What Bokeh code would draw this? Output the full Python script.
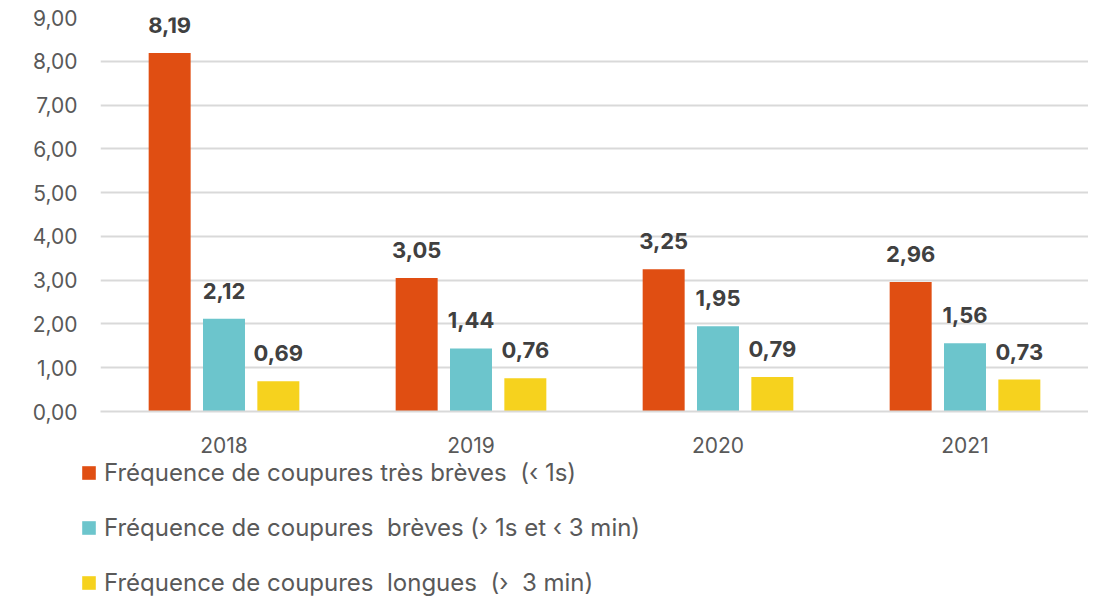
from bokeh.plotting import figure
from bokeh.layouts import column
from bokeh.models import ColumnDataSource, FactorRange, Range1d, Legend, LegendItem, CustomJSTickFormatter, FixedTicker
from bokeh.transform import dodge
from bokeh.core.properties import value
from bokeh.embed import file_html
from bokeh.resources import INLINE

years = ["2018", "2019", "2020", "2021"]
tres_breves = [8.19, 3.05, 3.25, 2.96]
breves = [2.12, 1.44, 1.95, 1.56]
longues = [0.69, 0.76, 0.79, 0.73]
series_names = [
    "Fréquence de coupures très brèves  (‹ 1s)",
    "Fréquence de coupures  brèves (› 1s et ‹ 3 min)",
    "Fréquence de coupures  longues  (›  3 min)",
]
colors = ["#E04E12", "#6CC5CC", "#F6D21E"]
y_ticks = [0, 1, 2, 3, 4, 5, 6, 7, 8, 9]

def fmt(v):
    return f"{v:.2f}".replace(".", ",")

src = ColumnDataSource(dict(
    years=years,
    a=tres_breves, b=breves, c=longues,
    la=[fmt(v) for v in tres_breves],
    lb=[fmt(v) for v in breves],
    lc=[fmt(v) for v in longues],
))

FONT = "Inter"
p = figure(x_range=FactorRange(*years, range_padding=0), y_range=Range1d(0, 9),
           width=1088, height=458,
           min_border_left=100, min_border_right=0, min_border_top=17, min_border_bottom=47,
           output_backend="svg", toolbar_location=None)
p.outline_line_color = None
p.background_fill_color = "white"

offsets = [-0.22, 0.0, 0.22]
cols = ["a", "b", "c"]
labs = ["la", "lb", "lc"]
for off, col, lab, color in zip(offsets, cols, labs, colors):
    p.vbar(x=dodge("years", off, range=p.x_range), top=col, width=0.17, source=src,
           fill_color=color, line_color=None)
    p.text(x=dodge("years", off, range=p.x_range), y=col, text=lab, source=src,
           text_align="center", text_baseline="bottom", y_offset=-20,
           text_font=value(FONT), text_font_style="bold", text_font_size="22px",
           text_color="#404040")

p.yaxis.ticker = FixedTicker(ticks=y_ticks)
p.yaxis.formatter = CustomJSTickFormatter(code="return tick.toFixed(2).replace('.', ',');")
p.yaxis.axis_line_color = None
p.yaxis.major_tick_line_color = None
p.yaxis.minor_tick_line_color = None
p.yaxis.major_label_text_font = FONT
p.yaxis.major_label_text_font_size = "21px"
p.yaxis.major_label_text_color = "#595959"
p.yaxis.major_label_standoff = 17

p.xaxis.axis_line_color = "#D9D9D9"
p.xaxis.axis_line_width = 2
p.xaxis.major_tick_line_color = None
p.xaxis.minor_tick_line_color = None
p.xaxis.major_label_text_font = FONT
p.xaxis.major_label_text_font_size = "21px"
p.xaxis.major_label_text_color = "#595959"
p.xaxis.major_label_standoff = 19

p.xgrid.grid_line_color = None
p.ygrid.grid_line_color = "#D9D9D9"
p.ygrid.grid_line_width = 2

# legend strip below the chart (proxy bars lie entirely below its visible y range)
pl = figure(width=1088, height=139, x_range=FactorRange(*years), y_range=Range1d(20, 21),
            x_axis_location=None, y_axis_location=None,
            min_border_left=0, min_border_right=0, min_border_top=0, min_border_bottom=0,
            output_backend="svg", toolbar_location=None)
pl.frame_align = False
pl.outline_line_color = None
pl.xgrid.grid_line_color = None
pl.ygrid.grid_line_color = None
proxies = [pl.vbar(x="years", top=col, width=0.17, source=src, fill_color=c, line_color=None)
           for col, c in zip(cols, colors)]

legend = Legend(items=[LegendItem(label=n, renderers=[r]) for n, r in zip(series_names, proxies)],
                orientation="vertical", location=(80, 0),
                label_text_font=FONT, label_text_font_size="24px", label_text_color="#595959",
                glyph_width=17, glyph_height=17, label_standoff=7, spacing=26,
                padding=0, margin=0, border_line_color=None, background_fill_alpha=0,
                label_height=20)
pl.add_layout(legend, "center")

layout = column(p, pl, spacing=0)
open("out.html", "w").write(file_html(layout, INLINE))
